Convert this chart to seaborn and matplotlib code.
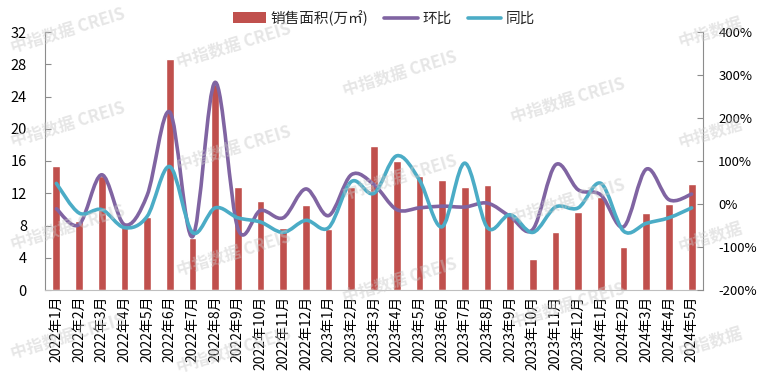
import matplotlib
matplotlib.use('Agg')
import matplotlib.pyplot as plt
import seaborn as sns
import pandas as pd
import numpy as np
from matplotlib.path import Path
from matplotlib.patches import PathPatch, Patch
from matplotlib.lines import Line2D

months = ['2022年%d月' % m for m in range(1, 13)] + \
         ['2023年%d月' % m for m in range(1, 13)] + \
         ['2024年%d月' % m for m in range(1, 6)]

area = [15.4, 8.5, 14.2, 7.8, 9.0, 28.7, 6.5, 25.6, 12.8, 11.0, 7.7, 10.5, 7.6,
        12.8, 17.9, 16.0, 14.2, 13.6, 12.8, 13.0, 9.3, 3.9, 7.2, 9.7, 11.5,
        5.3, 9.5, 10.7, 13.2]

mom = [-11, -48, 68, -48, 20, 214, -76, 283, -57, -15, -32, 35, -27,
       68, 45, -13, -9, -5, -7, 2, -29, -59, 91, 33, 21, -53, 81, 10, 23]

yoy = [48, -21, -13, -55, -29, 87, -66, -9, -32, -42, -66, -38, -55,
       52, 25, 112, 56, -53, 95, -55, -25, -66, -7, -9, 48, -63, -45, -32, -9]

RED = '#C0504D'
PURPLE = '#8064A2'
TEAL = '#4BACC6'
GRID = '#8c8c8c'

sns.set_style('white')
plt.rcParams['font.family'] = ['Noto Sans CJK SC', 'DejaVu Sans']


def smooth_path(xs, ys):
    # excel-like smoothed line: cubic bezier through every point
    pts = np.column_stack([xs, ys]).astype(float)
    n = len(pts)
    verts = [pts[0]]
    codes = [Path.MOVETO]
    for i in range(n - 1):
        p0 = pts[max(i - 1, 0)]
        p1 = pts[i]
        p2 = pts[i + 1]
        p3 = pts[min(i + 2, n - 1)]
        verts += [p1 + (p2 - p0) / 6, p2 - (p3 - p1) / 6, p2]
        codes += [Path.CURVE4] * 3
    return Path(verts, codes)


df = pd.DataFrame({'month': months, 'area': area})

fig = plt.figure(figsize=(7.6, 3.8), dpi=100)
ax = fig.add_axes([45 / 760, 1 - 290 / 380, 658 / 760, 258 / 380])

sns.barplot(data=df, x='month', y='area', color=RED, saturation=1,
            width=0.34, ax=ax, zorder=2)
ax.set_xlim(-0.5, len(months) - 0.5)
ax.set_ylim(0, 32)
ax.set_yticks(range(0, 33, 4))
ax.set_xlabel('')
ax.set_ylabel('')
ax.tick_params(axis='y', direction='in', length=4, color=GRID, pad=13,
               labelsize=10.5, labelcolor='#000000')
ax.tick_params(axis='x', which='major', length=0, pad=4, labelsize=10,
               rotation=90, labelcolor='#000000')
ax.set_xticks(np.arange(-0.5, len(months), 1), minor=True)
ax.tick_params(axis='x', which='minor', direction='in', length=4, color='#c8c8c8')
for s in ['top', 'right']:
    ax.spines[s].set_visible(False)
ax.spines['left'].set_color(GRID)
ax.spines['bottom'].set_color('#bfbfbf')

ax2 = ax.twinx()
ax2.set_ylim(-200, 400)
ax2.set_yticks(range(-200, 401, 100))
ax2.set_yticklabels(['%d%%' % v for v in range(-200, 401, 100)])
ax2.tick_params(axis='y', direction='in', length=4, color=GRID, pad=11,
                labelsize=9.5, labelcolor='#000000')
for s in ['top', 'left', 'bottom']:
    ax2.spines[s].set_visible(False)
ax2.spines['right'].set_color(GRID)

x = np.arange(len(months))
for vals, col in [(mom, PURPLE), (yoy, TEAL)]:
    ax2.add_patch(PathPatch(smooth_path(x, vals), facecolor='none',
                            edgecolor=col, lw=2.6, capstyle='round',
                            joinstyle='round', zorder=3))

handles = [Patch(facecolor=RED, edgecolor='none'),
           Line2D([], [], color=PURPLE, lw=2.6),
           Line2D([], [], color=TEAL, lw=2.6)]
fig.legend(handles, ['销售面积(万㎡)', '环比', '同比'], loc='center',
           bbox_to_anchor=(0.505, 0.953), ncol=3, frameon=False,
           fontsize=10.5, handlelength=2.3, handletextpad=0.3,
           columnspacing=1.1)

# watermark, kept inside the canvas
marks = [(68, 30), (68, 124), (68, 227), (68, 336),
         (234, 45), (234, 148), (234, 253), (234, 350),
         (400, 73), (400, 177), (400, 280),
         (568, 100), (568, 201), (568, 305)]
for cx, cy in marks:
    fig.text(cx / 760, 1 - cy / 380, '中指数据 CREIS',
             rotation=17, ha='center', va='center', fontsize=12,
             fontweight='bold', color='#c8c8c8', alpha=0.45, zorder=10)
for cy in [32, 133, 237, 342]:
    fig.text(710 / 760, 1 - cy / 380, '中指数据',
             rotation=17, ha='center', va='center', fontsize=12,
             fontweight='bold', color='#c8c8c8', alpha=0.45, zorder=10)

fig.savefig('out.png', dpi=100)
